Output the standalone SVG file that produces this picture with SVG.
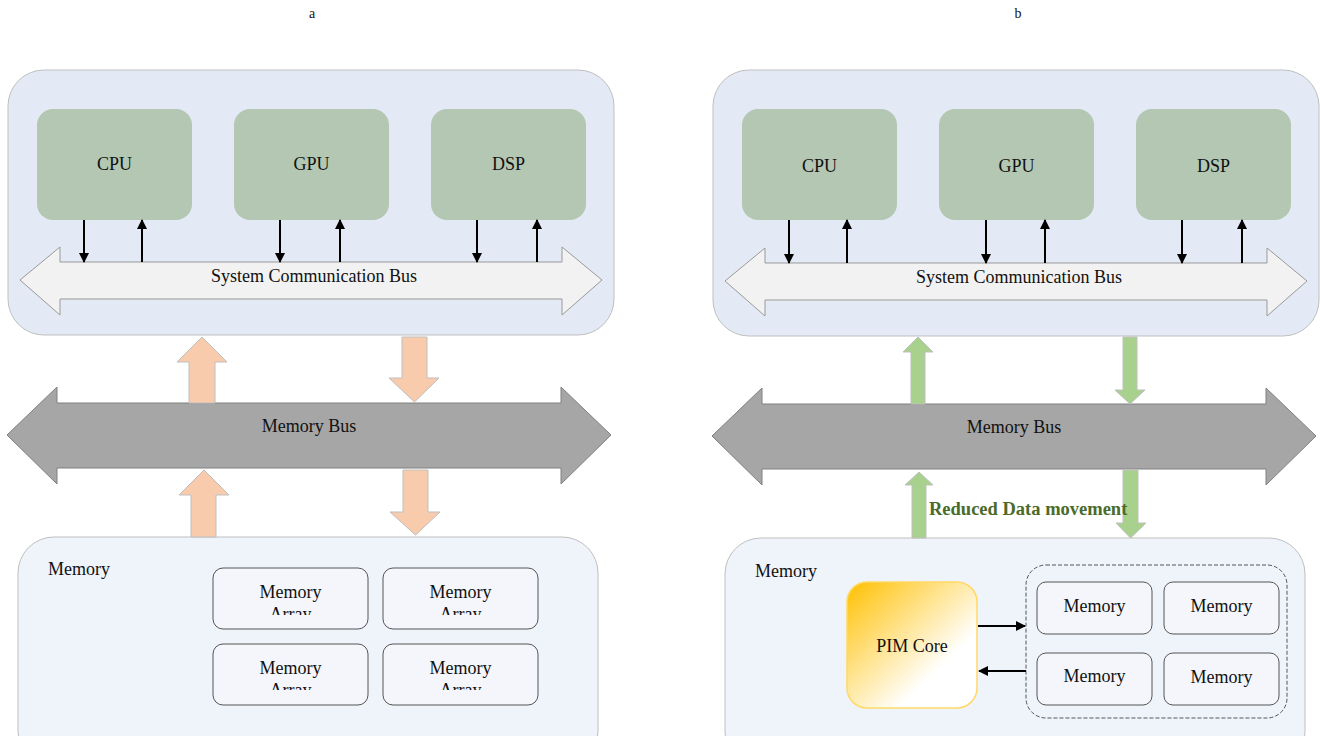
<svg xmlns="http://www.w3.org/2000/svg" width="1320" height="736" viewBox="0 0 1320 736">
<defs>
<style>
text{font-family:"Liberation Serif","Times New Roman",serif;font-size:18px;fill:#111;}
.lbl{font-size:14px;}
.cont{fill:#E4EAF5;stroke:#BFBFBF;stroke-width:1;}
.proc{fill:#B3C7B3;stroke:none;}
.sbus{fill:#F2F2F2;stroke:#999;stroke-width:1;}
.mbus{fill:#A6A6A6;stroke:#808080;stroke-width:1;}
.orng{fill:#F8CBAD;stroke:#BFBFBF;stroke-width:1;}
.grn{fill:#A9D18E;stroke:#BFBFBF;stroke-width:1;}
.mem{fill:#EFF3FA;stroke:#BFBFBF;stroke-width:1;}
.arr{fill:#F4F6FB;stroke:#555;stroke-width:1;}
.dash{fill:none;stroke:#555;stroke-width:1;stroke-dasharray:4,2;}
.ln{stroke:#000;stroke-width:2;fill:none;}
.pim{stroke:#FFD966;stroke-width:1.5;}
.rdm{font-weight:bold;fill:#4A6B2A;font-size:18.5px;}
</style>
<marker id="ah" viewBox="0 0 10 10" refX="9" refY="5" markerWidth="5" markerHeight="5" markerUnits="strokeWidth" orient="auto">
<path d="M0,0 L10,5 L0,10 z" fill="#000"/>
</marker>
<linearGradient id="pg" x1="0" y1="0" x2="1" y2="1">
<stop offset="0" stop-color="#FFC000"/>
<stop offset="0.7" stop-color="#FFFFFF"/>
<stop offset="1" stop-color="#FFFFFF"/>
</linearGradient>
<clipPath id="c1"><rect x="213" y="568" width="325" height="47"/></clipPath>
<clipPath id="c2"><rect x="213" y="644" width="325" height="46"/></clipPath>
</defs>

<text class="lbl" x="312" y="18" text-anchor="middle">a</text>
<text class="lbl" x="1018" y="18" text-anchor="middle">b</text>

<!-- Panel a -->
<g id="a-sys">
<rect class="cont" x="8" y="70" width="606" height="265" rx="36"/>
</g>
<g id="a-cpu"><rect class="proc" x="37" y="109" width="155" height="111" rx="16"/><text x="114.5" y="170" text-anchor="middle">CPU</text></g>
<g id="a-gpu"><rect class="proc" x="234" y="109" width="155" height="111" rx="16"/><text x="311.5" y="170" text-anchor="middle">GPU</text></g>
<g id="a-dsp"><rect class="proc" x="431" y="109" width="155" height="111" rx="16"/><text x="508.5" y="170" text-anchor="middle">DSP</text></g>
<g id="a-sbus">
<polygon class="sbus" points="20,280 60,247 60,262 562,262 562,247 602,280 562,315 562,299 60,299 60,315"/>
<text x="314" y="282" text-anchor="middle">System Communication Bus</text>
</g>
<g id="a-mbus">
<polygon class="mbus" points="7,435 57,387 57,403 561,403 561,387 611,435 561,484 561,468 57,468 57,484"/>
<text x="309" y="432" text-anchor="middle">Memory Bus</text>
</g>
<g id="a-mem">
<rect class="mem" x="18" y="537" width="580" height="230" rx="36"/>
<text x="48" y="575">Memory</text>
</g>
<g id="a-arr1"><rect class="arr" x="213" y="568" width="155" height="61" rx="10"/><text x="290.5" y="598" text-anchor="middle">Memory</text><text x="290.5" y="620" text-anchor="middle" clip-path="url(#c1)">Array</text></g>
<g id="a-arr2"><rect class="arr" x="383" y="568" width="155" height="61" rx="10"/><text x="460.5" y="598" text-anchor="middle">Memory</text><text x="460.5" y="620" text-anchor="middle" clip-path="url(#c1)">Array</text></g>
<g id="a-arr3"><rect class="arr" x="213" y="644" width="155" height="61" rx="10"/><text x="290.5" y="674" text-anchor="middle">Memory</text><text x="290.5" y="696" text-anchor="middle" clip-path="url(#c2)">Array</text></g>
<g id="a-arr4"><rect class="arr" x="383" y="644" width="155" height="61" rx="10"/><text x="460.5" y="674" text-anchor="middle">Memory</text><text x="460.5" y="696" text-anchor="middle" clip-path="url(#c2)">Array</text></g>

<!-- Panel b -->
<g id="b-sys">
<rect class="cont" x="713" y="70" width="606" height="266" rx="36"/>
</g>
<g id="b-cpu"><rect class="proc" x="742" y="109" width="155" height="111" rx="16"/><text x="819.5" y="172" text-anchor="middle">CPU</text></g>
<g id="b-gpu"><rect class="proc" x="939" y="109" width="155" height="111" rx="16"/><text x="1016.5" y="172" text-anchor="middle">GPU</text></g>
<g id="b-dsp"><rect class="proc" x="1136" y="109" width="155" height="111" rx="16"/><text x="1213.5" y="172" text-anchor="middle">DSP</text></g>
<g id="b-sbus">
<polygon class="sbus" points="725,281 765,248 765,263 1267,263 1267,248 1307,281 1267,316 1267,300 765,300 765,316"/>
<text x="1019" y="283" text-anchor="middle">System Communication Bus</text>
</g>
<g id="b-mbus">
<polygon class="mbus" points="712,436 762,388 762,404 1266,404 1266,388 1316,436 1266,485 1266,469 762,469 762,485"/>
<text x="1014" y="433" text-anchor="middle">Memory Bus</text>
</g>
<g id="b-mem">
<rect class="mem" x="725" y="538" width="580" height="230" rx="36"/>
<text x="755" y="577">Memory</text>
</g>
<g id="b-pim"><rect class="pim" x="847" y="582" width="130" height="126" rx="20" fill="url(#pg)"/><text x="912" y="652" text-anchor="middle">PIM Core</text></g>
<g id="b-bank"><rect class="dash" x="1026" y="565" width="261" height="153" rx="20"/></g>
<g id="b-m1"><rect class="arr" x="1037" y="582" width="115" height="52" rx="9"/><text x="1094.5" y="612" text-anchor="middle">Memory</text></g>
<g id="b-m2"><rect class="arr" x="1164" y="582" width="115" height="52" rx="9"/><text x="1221.5" y="612" text-anchor="middle">Memory</text></g>
<g id="b-m3"><rect class="arr" x="1037" y="653" width="115" height="52" rx="9"/><text x="1094.5" y="682" text-anchor="middle">Memory</text></g>
<g id="b-m4"><rect class="arr" x="1164" y="653" width="115" height="52" rx="9"/><text x="1221.5" y="683" text-anchor="middle">Memory</text></g>

<!-- connectors -->
<g id="connectors">
<line class="ln" x1="84" y1="220" x2="84" y2="262" marker-end="url(#ah)"/>
<line class="ln" x1="142" y1="262" x2="142" y2="220" marker-end="url(#ah)"/>
<line class="ln" x1="280" y1="220" x2="280" y2="262" marker-end="url(#ah)"/>
<line class="ln" x1="340" y1="262" x2="340" y2="220" marker-end="url(#ah)"/>
<line class="ln" x1="477" y1="220" x2="477" y2="262" marker-end="url(#ah)"/>
<line class="ln" x1="537" y1="262" x2="537" y2="220" marker-end="url(#ah)"/>

<line class="ln" x1="789" y1="220" x2="789" y2="263" marker-end="url(#ah)"/>
<line class="ln" x1="847" y1="263" x2="847" y2="220" marker-end="url(#ah)"/>
<line class="ln" x1="986" y1="220" x2="986" y2="263" marker-end="url(#ah)"/>
<line class="ln" x1="1045" y1="263" x2="1045" y2="220" marker-end="url(#ah)"/>
<line class="ln" x1="1182" y1="220" x2="1182" y2="263" marker-end="url(#ah)"/>
<line class="ln" x1="1242" y1="263" x2="1242" y2="220" marker-end="url(#ah)"/>

<polygon class="orng" points="189,403 189,362 177,362 202,337 227,362 215,362 215,403"/>
<polygon class="orng" points="402,337 427,337 427,378 439,378 414.5,402 389,378 402,378"/>
<polygon class="orng" points="191,537 191,495 179,495 204,470 229,495 216,495 216,537"/>
<polygon class="orng" points="403,470 428,470 428,512 440,512 415.5,535 390,512 403,512"/>

<polygon class="grn" points="911,404 911,352 903,352 918,337 933,352 925,352 925,404"/>
<polygon class="grn" points="1123,337 1137,337 1137,390 1145,390 1130,404 1115,390 1123,390"/>
<polygon class="grn" points="912,538 912,485 905,485 919,472 933,485 926,485 926,538"/>
<polygon class="grn" points="1123,470 1138,470 1138,523 1146,523 1130.5,538 1116,523 1123,523"/>

<line class="ln" x1="978" y1="626" x2="1025" y2="626" marker-end="url(#ah)"/>
<line class="ln" x1="1026" y1="671" x2="979" y2="671" marker-end="url(#ah)"/>
</g>

<text class="rdm" x="929" y="515">Reduced Data movement</text>
</svg>
